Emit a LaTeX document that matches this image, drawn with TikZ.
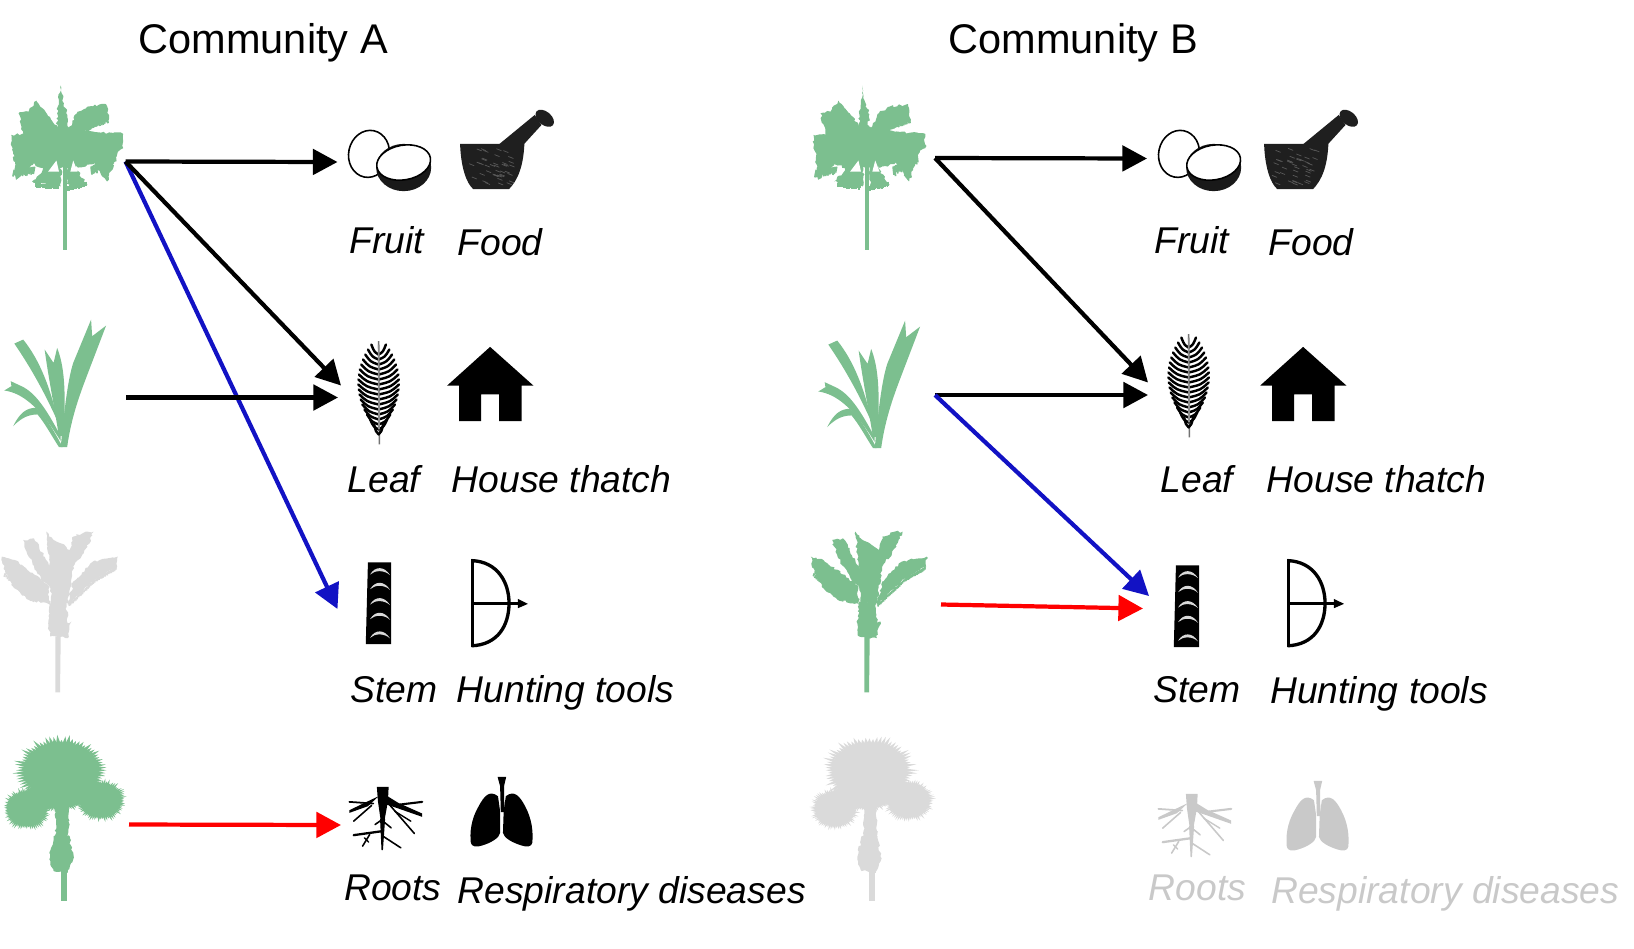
\documentclass[tikz,border=0pt]{standalone}
\usepackage{fontspec}
\setmainfont{Liberation Sans}
\usetikzlibrary{arrows.meta,decorations.pathmorphing}
\definecolor{palmgreen}{HTML}{7CBF8F}
\definecolor{palmgrey}{HTML}{DADADA}
\definecolor{icongrey}{HTML}{C9C9C9}
\definecolor{arrowblue}{HTML}{1212C4}
% hanging leaflets along an edge: colour, x1, y1, x2, y2, dx, dy
\newcommand{\fringe}[7]{
	\foreach \t in {0,0.05,...,1} {
		\pgfmathsetmacro\stretch{0.75+0.35*rnd}
		\draw[#1,line width=.5pt] ({#2+\t*(#4-#2)},{#3+\t*(#5-#3)}) -- ++({\stretch*#6},{\stretch*#7});
	}
}
% spiky crown: colour, cx, cy, rx, ry
\newcommand{\crownblob}[5]{
	\fill[#1] (#2,#3) ellipse [x radius=0.82*#4,y radius=0.82*#5];
	\foreach \a in {0,5,...,355} {
		\pgfmathsetmacro\stretch{0.9+0.2*rnd}
		\fill[#1] ({#2+0.78*#4*cos(\a-4)},{#3+0.78*#5*sin(\a-4)}) -- ({#2+\stretch*#4*cos(\a)},{#3+\stretch*#5*sin(\a)}) -- ({#2+0.78*#4*cos(\a+4)},{#3+0.78*#5*sin(\a+4)}) -- cycle;
	}
}
\tikzset{
	zoomed/.style={x=0.0035714cm,y=-0.0033333cm},
	rough/.style={decorate,decoration={random steps,segment length=.7pt,amplitude=.35pt}},
	arrowline/.style={-{Triangle[length=7pt,width=7.2pt]},line width=1.2pt},
	heading/.style={anchor=base west,inner sep=0pt,font=\fontsize{11.8pt}{14pt}\selectfont},
	usepart/.style={anchor=base west,inner sep=0pt,font=\fontsize{10.6pt}{13pt}\selectfont\itshape},
	pics/palmtall/.style={code={
		\begin{scope}[zoomed]
		\fill[#1] (175,290) rectangle (187,540);
		\fill[#1,rough] (170,47) -- (178,110) -- (188,120) -- (185,220) -- (160,220) -- (160,130) -- (165,90) -- cycle;
		\fill[#1,rough] (102,92) -- (158,165) -- (175,230) -- (70,215) -- (52,130) -- (80,125) -- cycle;
		\fill[#1,rough] (297,103) -- (305,150) -- (230,190) -- (185,195) -- (215,130) -- (245,110) -- cycle;
		\fill[#1,rough] (32,195) -- (100,190) -- (170,170) -- (190,170) -- (260,185) -- (345,192) -- (345,235) -- (310,258) -- (240,290) -- (120,295) -- (60,265) -- (34,240) -- cycle;
		\fill[#1,rough] (36,240) -- (110,262) -- (45,330) -- cycle;
		\fill[#1,rough] (250,262) -- (330,245) -- (300,335) -- cycle;
		\fill[#1,rough] (150,265) -- (90,335) -- (130,345) -- (170,350) -- (172,300) -- cycle;
		\fill[#1,rough] (190,262) -- (245,345) -- (195,360) -- (185,310) -- cycle;
		\fill[white] (135,305) -- (165,305) -- (158,272) -- cycle;
		\fill[white] (197,305) -- (217,305) -- (205,272) -- cycle;
		\fringe{#1}{40}{300}{100}{290}{-4}{22}
		\fringe{#1}{255}{290}{325}{250}{3}{28}
		\fringe{#1}{100}{340}{165}{345}{0}{14}
		\fringe{#1}{190}{350}{245}{335}{0}{14}
		\fringe{#1}{215}{180}{305}{145}{2}{12}
		\end{scope}
	}},
	pics/palmleafy/.style={code={
		\begin{scope}[zoomed]
		\fill[#1] (170,1133) .. controls (180,1020) and (190,930) .. (205,880) -- (255,750) -- (258,800) -- (297,768) -- (250,900) .. controls (225,970) and (200,1040) .. (188,1133) -- cycle;
		\fill[#1] (165,1100) .. controls (150,1000) and (135,920) .. (125,840) -- (150,880) -- (160,835) .. controls (180,890) and (185,960) .. (178,1100) -- cycle;
		\fill[#1] (165,1065) .. controls (130,980) and (90,900) .. (40,822) -- (65,810) .. controls (110,870) and (140,950) .. (165,1065) -- cycle;
		\fill[#1] (170,1100) .. controls (130,1020) and (100,970) .. (60,950) -- (30,935) -- (32,950) -- (12,963) .. controls (60,970) and (110,1010) .. (170,1115) -- cycle;
		\fill[#1] (175,1133) .. controls (150,1080) and (120,1030) .. (100,1015) .. controls (75,1015) and (55,1030) .. (37,1070) .. controls (60,1045) and (80,1035) .. (105,1035) .. controls (125,1060) and (145,1100) .. (165,1133) -- cycle;
		\end{scope}
	}},
	pics/palmfan/.style={code={
		\begin{scope}[zoomed]
		\fill[#1] (155,380) -- (170,380) -- (168,548) -- (155,548) -- cycle;
		\fill[#1,rough] (5,140) -- (40,150) -- (135,225) -- (140,285) -- (80,270) -- (40,235) -- (15,190) -- cycle;
		\fill[#1,rough] (65,90) -- (95,85) -- (140,170) -- (150,240) -- (120,215) -- (80,140) -- cycle;
		\fill[#1,rough] (130,65) -- (150,90) -- (170,100) -- (195,120) -- (205,80) -- (240,65) -- (262,65) -- (245,110) -- (205,170) -- (190,280) -- (145,280) -- (135,130) -- cycle;
		\fill[#1,rough] (330,140) -- (328,170) -- (270,205) -- (190,285) -- (205,215) -- (260,155) -- cycle;
		\fill[#1,rough] (140,275) -- (185,275) -- (190,340) -- (200,335) -- (190,385) -- (140,380) -- (135,340) -- cycle;
		\fringe{#1}{15}{190}{100}{270}{-3}{10}
		\fringe{#1}{195}{280}{270}{205}{-2}{10}
		\fringe{#1}{270}{205}{328}{170}{-2}{10}
		\end{scope}
	}},
	pics/palmround/.style={code={
		\begin{scope}[zoomed]
		\fill[#1] (170,1085) -- (187,1085) -- (187,1175) -- (170,1175) -- cycle;
		\fill[#1,rough] (150,980) -- (195,980) -- (205,1050) -- (190,1090) -- (150,1085) -- (138,1050) -- cycle;
		\fill[#1,rough] (155,880) -- (192,880) -- (192,985) -- (155,985) -- cycle;
		\crownblob{#1}{172}{782}{126}{100}
		\crownblob{#1}{75}{898}{66}{62}
		\crownblob{#1}{282}{872}{70}{62}
		\crownblob{#1}{170}{850}{75}{55}
		\crownblob{#1}{120}{860}{55}{45}
		\crownblob{#1}{228}{845}{60}{45}
		\end{scope}
	}},
	pics/coconut/.style={code={
		\begin{scope}[zoomed]
		\draw[black,fill=white,line width=.45pt,rotate around={-12:(1033,252)}] (1033,252) ellipse [x radius=57,y radius=71];
		\fill[black!90] (1130,293) ellipse [x radius=77,y radius=71];
		\draw[black,fill=white,line width=.45pt,rotate around={10:(1130,278)}] (1130,278) ellipse [x radius=76,y radius=52];
		\end{scope}
	}},
	pics/mortar/.style={code={
		\begin{scope}[zoomed]
		\fill[black!88] (1395,225) -- (1497,135) -- (1516,165) -- (1465,225) -- cycle;
		\fill[black!88,rotate around={-40:(1525,145)}] (1525,145) ellipse [x radius=30,y radius=20];
		\fill[black!88] (1288,222) -- (1468,222) .. controls (1465,290) and (1450,330) .. (1425,358) -- (1325,358) .. controls (1305,340) and (1290,290) .. cycle;
		\foreach \i in {1,...,40} {
			\pgfmathsetmacro\xpos{1310+125*rnd}
			\pgfmathsetmacro\ypos{235+105*rnd}
			\draw[black!65,line width=.2pt] (\xpos,\ypos) -- ++(14,6);
		}
		\end{scope}
	}},
	pics/frond/.style={code={
		\begin{scope}[zoomed]
		\draw[black!55,line width=.4pt] (1060,815) -- (1062,1125);
		\foreach \ypos in {825,840,...,1065} {
			\pgfmathsetmacro\halfw{57*pow(sin(0.6667*(\ypos-805)),0.7)}
			\draw[black,line width=.7pt,line cap=round] (1060,\ypos+30) .. controls (1060-.6*\halfw,\ypos+22) .. (1060-\halfw,\ypos);
			\draw[black,line width=.7pt,line cap=round] (1060,\ypos+30) .. controls (1060+.6*\halfw,\ypos+22) .. (1060+\halfw,\ypos);
		}
		\draw[black!45,line width=.5pt] (1060,825) -- (1061,1080);
		\end{scope}
	}},
	pics/house/.style={code={
		\begin{scope}[zoomed]
		\fill[black] (1372,832) -- (1493,948) -- (1460,948) -- (1460,1055) -- (1397,1055) -- (1397,975) -- (1347,975) -- (1347,1055) -- (1285,1055) -- (1285,948) -- (1252,948) -- cycle;
		\end{scope}
	}},
	pics/stemcut/.style={code={
		\begin{scope}[zoomed]
		\fill[black] (1030,157) -- (1095,157) -- (1095,403) -- (1024,403) -- cycle;
		\foreach \ypos in {178,222,268,312,368} {
			\fill[white!85!black] (1036,\ypos+16) .. controls (1050,\ypos-10) and (1076,\ypos-10) .. (1092,\ypos+18) .. controls (1076,\ypos+2) and (1050,\ypos+2) .. cycle;
		}
		\end{scope}
	}},
	pics/huntbow/.style={code={
		\begin{scope}[zoomed]
		\draw[black,line width=.95pt] (1322,148) -- (1322,412);
		\draw[black,line width=.95pt] (1320,152) .. controls (1395,155) and (1425,220) .. (1425,280) .. controls (1425,345) and (1395,405) .. (1320,408);
		\draw[black,line width=.7pt] (1322,281) -- (1455,281);
		\fill[black] (1450,267) -- (1478,282) -- (1450,295) -- cycle;
		\end{scope}
	}},
	pics/rootball/.style={code={
		\begin{scope}[zoomed,#1,line cap=round]
		\fill (1055,832) -- (1088,832) -- (1086,875) -- (1076,935) -- (1066,935) -- (1058,875) -- cycle;
		\draw[line width=.4pt,fill] (1066,930) -- (1076,930) -- (1070,1022) -- cycle;
		\fill (1060,860) -- (1030,890) -- (978,910) -- (978,902) -- (1040,870) -- cycle;
		\draw[line width=.5pt] (1045,882) -- (978,877);
		\draw[line width=.45pt] (1040,888) -- (990,935);
		\fill (1085,860) -- (1115,880) -- (1182,912) -- (1182,922) -- (1110,895) -- (1082,885) -- cycle;
		\draw[line width=.6pt] (1120,885) -- (1182,877);
		\draw[line width=.45pt] (1090,885) -- (1160,972);
		\draw[line width=.4pt] (1105,905) -- (1150,935);
		\draw[line width=.45pt] (1070,930) -- (1050,945);
		\draw[line width=.45pt] (1072,935) -- (1095,955);
		\draw[line width=.65pt] (1070,965) -- (990,977);
		\draw[line width=.45pt] (1035,975) -- (1015,1010);
		\draw[line width=.4pt] (1020,985) -- (1032,998);
		\draw[line width=.45pt] (1072,980) -- (1122,1015);
		\end{scope}
	}},
	pics/lungs/.style={code={
		\begin{scope}[zoomed]
		\fill[#1] (1393,802) -- (1417,802) -- (1411,830) -- (1412,908) -- (1402,908) -- (1400,830) -- cycle;
		\fill[#1] (1394,860) .. controls (1370,840) and (1355,860) .. (1340,890) .. controls (1318,930) and (1315,970) .. (1318,1000) .. controls (1320,1012) and (1335,1014) .. (1350,1008) .. controls (1375,1000) and (1398,985) .. (1400,970) -- (1400,905) -- cycle;
		\fill[#1] (1416,860) .. controls (1440,840) and (1455,860) .. (1470,890) .. controls (1490,930) and (1493,970) .. (1490,1000) .. controls (1488,1012) and (1475,1014) .. (1460,1008) .. controls (1435,1000) and (1410,985) .. (1408,970) -- (1410,905) -- cycle;
		\end{scope}
	}},
}
\pgfmathsetseed{7}
\begin{document}
\begin{tikzpicture}[x=0.01cm,y=-0.01cm]
	\useasboundingbox (0,0) rectangle (1634,948);

	% Community A
	\node[heading] (titleA) at (138,53) {Community A};

	\pic at (0,70) {palmtall=palmgreen};
	\pic at (0,70) {palmleafy=palmgreen};
	\pic at (0,510) {palmfan=palmgrey};
	\pic at (0,510) {palmround=palmgreen};

	\pic at (0,70) {coconut};
	\pic at (0,70) {mortar};
	\pic at (0,70) {frond};
	\pic at (0,70) {house};
	\pic at (0,510) {stemcut};
	\pic at (0,510) {huntbow};
	\pic at (0,510) {rootball=black};
	\pic at (0,510) {lungs=black};

	\node[usepart] (fruitA) at (349,253) {Fruit};
	\node[usepart] (foodA) at (457,255) {Food};
	\node[usepart] (leafA) at (347,492) {Leaf};
	\node[usepart] (thatchA) at (451,492) {House thatch};
	\node[usepart] (stemA) at (349.5,702) {Stem};
	\node[usepart] (huntA) at (456,702) {Hunting tools};
	\node[usepart] (rootsA) at (343.5,900) {Roots};
	\node[usepart] (lungA) at (457,903) {Respiratory diseases};

	\coordinate (palmoneA) at (125.5,161.5);
	\coordinate (palmtwoA) at (126,397.5);
	\coordinate (palmfourA) at (129,824.5);
	\coordinate (fruitendA) at (337.5,162);
	\coordinate (leafendA) at (341,385.5);
	\coordinate (leafmidA) at (338,397.5);
	\coordinate (stemendA) at (337.5,609);
	\coordinate (rootendA) at (341,825);

	\draw[arrowline,arrowblue] (palmoneA) -- (stemendA);
	\draw[arrowline] (palmoneA) -- (fruitendA);
	\draw[arrowline] (palmoneA) -- (leafendA);
	\draw[arrowline] (palmtwoA) -- (leafmidA);
	\draw[arrowline,red] (palmfourA) -- (rootendA);

	% Community B
	\node[heading] (titleB) at (948,53) {Community B};

	\pic at (802,70) {palmtall=palmgreen};
	\pic at (814,71) {palmleafy=palmgreen};
	\pic at (809,510) {palmfan=palmgreen};
	\pic at (808,510) {palmround=palmgrey};

	\pic at (810,70) {coconut};
	\pic at (804,70) {mortar};
	\pic at (810,63) {frond};
	\pic at (813,70) {house};
	\pic at (808,513) {stemcut};
	\pic at (816,510) {huntbow};
	\pic at (809,517) {rootball=icongrey};
	\pic at (816,514) {lungs=icongrey};

	\node[usepart] (fruitB) at (1154,253) {Fruit};
	\node[usepart] (foodB) at (1268,255) {Food};
	\node[usepart] (leafB) at (1160,492) {Leaf};
	\node[usepart] (thatchB) at (1266,492) {House thatch};
	\node[usepart] (stemB) at (1152.5,702) {Stem};
	\node[usepart] (huntB) at (1269.5,703) {Hunting tools};
	\node[usepart,icongrey] (rootsB) at (1148,900) {Roots};
	\node[usepart,icongrey] (lungB) at (1270.5,903) {Respiratory diseases};

	\coordinate (palmoneB) at (935,158);
	\coordinate (palmtwoB) at (935,395);
	\coordinate (palmthreeB) at (941,604.5);
	\coordinate (fruitendB) at (1147,158.5);
	\coordinate (leafendB) at (1148,382.5);
	\coordinate (leafmidB) at (1148,395);
	\coordinate (stemendB) at (1149,596);
	\coordinate (stemredB) at (1143,608.5);

	\draw[arrowline] (palmoneB) -- (fruitendB);
	\draw[arrowline] (palmoneB) -- (leafendB);
	\draw[arrowline] (palmtwoB) -- (leafmidB);
	\draw[arrowline,arrowblue] (palmtwoB) -- (stemendB);
	\draw[arrowline,red] (palmthreeB) -- (stemredB);
\end{tikzpicture}
\end{document}
